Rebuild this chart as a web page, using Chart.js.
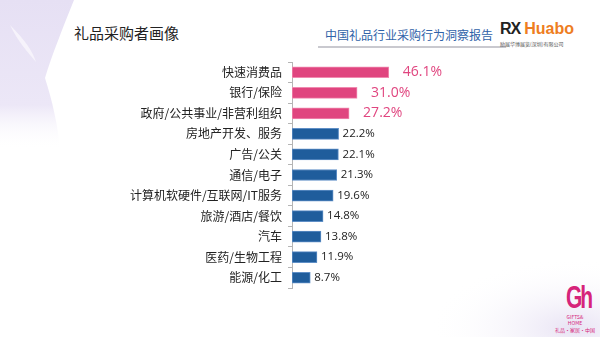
<!DOCTYPE html>
<html lang="zh">
<head>
<meta charset="UTF-8" />
<title>礼品采购者画像</title>
<script src="https://cdn.jsdelivr.net/npm/chart.js"></script>
<style>
  html, body { margin: 0; padding: 0; }
  body { width: 600px; height: 337px; position: relative; overflow: hidden; background: #fff;
         font-family: "Noto Sans CJK SC", "Noto Sans", sans-serif; }
  svg.deco { position: absolute; left: 0; top: 0; }
  #title { position: absolute; left: 74px; top: 22px; font-size: 15px; color: #222; }
  #report { position: absolute; left: 325px; top: 26px; font-size: 12px; color: #2f62a8; }
  #rule { position: absolute; left: 318px; top: 46px; width: 188px; height: 2px; background: #c9c9cf; }
  #logo { position: absolute; left: 500px; top: 20px; font-size: 16px; font-weight: bold; color: #ee7d22;
          font-family: "Liberation Sans", sans-serif; }
  #logo b { color: #222; letter-spacing: -1px; margin-right: 4px; }
  #logoSub { position: absolute; left: 500px; top: 40px; font-size: 5px; color: #555; }
  #gh { position: absolute; left: 566px; top: 282px; font-size: 21px; font-weight: bold; color: #d6247a;
        font-family: "Liberation Sans", sans-serif; line-height: 1; transform: scaleY(1.45); transform-origin: top left;
        letter-spacing: -2px; }
  #ghText { position: absolute; left: 552px; top: 314px; width: 46px; font-size: 5px; color: #d6247a; text-align: center;
            line-height: 1.25; }
  canvas { position: absolute; left: 0; top: 0; }
</style>
</head>
<body>
<svg class="deco" width="600" height="337">
  <defs>
    <linearGradient id="lav" x1="0" y1="0" x2="0" y2="1">
      <stop offset="0" stop-color="#e6e0f4" />
      <stop offset="0.7" stop-color="#ece7f7" />
      <stop offset="1" stop-color="#ffffff" stop-opacity="0" />
    </linearGradient>
    <radialGradient id="lav2" cx="0.85" cy="0.9" r="0.8">
      <stop offset="0" stop-color="#e8e3f4" />
      <stop offset="1" stop-color="#ffffff" stop-opacity="0" />
    </radialGradient>
  </defs>
  <path d="M0 0 L74 0 C62 30 52 55 45 78 C52 100 58 125 60 150 L0 150 Z" fill="url(#lav)" />
  <path d="M10 25 C25 40 32 50 36 62 C28 52 18 42 10 25 Z" fill="#f6f3fb" />
  <rect x="420" y="250" width="180" height="87" fill="url(#lav2)" />
</svg>
<div id="title">礼品采购者画像</div>
<div id="report">中国礼品行业采购行为洞察报告</div>
<div id="rule"></div>
<div id="logo"><b>RX</b>Huabo</div>
<div id="logoSub">励展华博展览(深圳)有限公司</div>
<div id="gh">Gh</div>
<div id="ghText">GIFTS&amp;<br>HOME<br>礼品·家居·中国</div>
<canvas id="chart" width="600" height="337"></canvas>

<script>
const categories = ['快速消费品', '银行/保险', '政府/公共事业/非营利组织', '房地产开发、服务', '广告/公关',
  '通信/电子', '计算机软硬件/互联网/IT服务', '旅游/酒店/餐饮', '汽车', '医药/生物工程', '能源/化工'];
const shares = [46.1, 31.0, 27.2, 22.2, 22.1, 21.3, 19.6, 14.8, 13.8, 11.9, 8.7];
// first three rows are highlighted in pink
const highlightCount = 3;

const pink = '#e0457f';
const blue = '#1f5d9c';

// value labels at the end of each bar
const valueLabels = {
  id: 'valueLabels',
  afterDatasetsDraw(chart) {
    const ctx = chart.ctx;
    const meta = chart.getDatasetMeta(0);
    ctx.save();
    ctx.textBaseline = 'middle';
    ctx.textAlign = 'left';
    meta.data.forEach((bar, i) => {
      const hi = i < highlightCount;
      ctx.fillStyle = hi ? pink : '#222';
      ctx.font = hi ? '14px "Open Sans", sans-serif' : '11.5px "Open Sans", sans-serif';
      ctx.fillText(shares[i].toFixed(1) + '%', bar.x + (hi ? 14 : 4), bar.y);
    });
    ctx.restore();
  }
};

new Chart(document.getElementById('chart'), {
  type: 'bar',
  data: {
    labels: categories,
    datasets: [{
      data: shares,
      backgroundColor: shares.map((v, i) => i < highlightCount ? pink : blue),
      borderColor: shares.map((v, i) => i < highlightCount ? '#f08ab0' : '#5f8fc6'),
      borderWidth: 1,
      borderSkipped: false,
      barThickness: 11
    }]
  },
  options: {
    indexAxis: 'y',
    responsive: false,
    animation: false,
    layout: { padding: { left: 0, top: 62, right: 98, bottom: 49 } },
    plugins: { legend: { display: false }, tooltip: { enabled: false } },
    scales: {
      x: { display: false, min: 0, max: 100 },
      y: {
        afterFit(scale) { scale.width = 292; },
        border: { display: true, color: '#b5b5b5', width: 1 },
        grid: { offset: true, drawOnChartArea: false, tickLength: 4, color: '#b5b5b5' },
        ticks: { color: '#222', padding: 6, font: { size: 12, family: '"Noto Sans CJK SC", sans-serif' } }
      }
    }
  },
  plugins: [valueLabels]
});
</script>
</body>
</html>
